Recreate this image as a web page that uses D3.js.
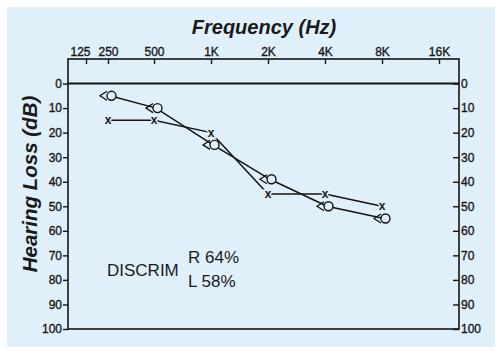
<!DOCTYPE html>
<html>
<head>
<meta charset="utf-8">
<script src="https://cdn.jsdelivr.net/npm/d3@7"></script>
<style>
  body { margin: 0; background: #fff; }
  text { font-family: "Liberation Sans", Arial, sans-serif; fill: #1a1a1a; }
  .tick text { stroke: #141414; stroke-width: 0.35px; }
</style>
</head>
<body>
<svg id="chart" width="500" height="354"></svg>
<script>
// audiogram values
const freqTicks = [125, 250, 500, 1000, 2000, 4000, 8000, 16000];
const freqLabels = ["125", "250", "500", "1K", "2K", "4K", "8K", "16K"];
const dbTicks = [0, 10, 20, 30, 40, 50, 60, 70, 80, 90, 100];
const testFreqs = [250, 500, 1000, 2000, 4000, 8000];
const rightEar = [5, 10, 25, 39, 50, 55];   // circles with <
const leftEar = [15, 15, 20, 45, 45, 50];   // x marks
const discrim = [["R", "64%"], ["L", "58%"]];

const bg = "#e0f0fa";
const ink = "#141414";

const svg = d3.select("#chart");
svg.append("rect").attr("x", 7).attr("y", 7).attr("width", 488).attr("height", 340).attr("fill", bg);

const plotL = 68, plotR = 459, plotT = 59, plotB = 329;

// the chart squeezes the 125-250 octave, so the scale is piecewise in log2
const x = d3.scaleLinear()
    .domain([125, 250, 500, 16000].map(Math.log2))
    .range([86, 108, 154, 439]);
const fx = f => x(Math.log2(f));

const y = d3.scaleLinear().domain([-10, 100]).range([plotT, plotB]);

// frame
const g = svg.append("g").attr("stroke", ink).attr("fill", "none");
g.append("rect").attr("x", plotL).attr("y", plotT).attr("width", plotR - plotL).attr("height", plotB - plotT)
    .attr("stroke-width", 1.6);
g.append("line").attr("x1", plotL).attr("x2", plotR).attr("y1", y(0)).attr("y2", y(0)).attr("stroke-width", 2);

// top frequency axis
const topAxis = d3.axisTop(x).tickValues(freqTicks.map(Math.log2))
    .tickFormat((d, i) => freqLabels[i]).tickSizeInner(-5).tickSizeOuter(0).tickPadding(8);
const ta = svg.append("g").attr("transform", `translate(0,${plotT})`).call(topAxis);
ta.select(".domain").remove();
ta.selectAll(".tick line").attr("stroke", ink).attr("stroke-width", 1.4);
ta.selectAll(".tick text").attr("font-size", 12).attr("fill", ink).attr("y", -3)
    .attr("dx", (d, i) => i === 0 ? -6 : 0);

// left dB axis
const la = svg.append("g").attr("transform", `translate(${plotL},0)`)
    .call(d3.axisLeft(y).tickValues(dbTicks).tickSize(5).tickPadding(1));
la.select(".domain").remove();
la.selectAll(".tick line").attr("stroke", ink).attr("stroke-width", 1.4);
la.selectAll(".tick text").attr("font-size", 12).attr("fill", ink);

// right dB axis, ticks point inward
const ra = svg.append("g").attr("transform", `translate(${plotR},0)`)
    .call(d3.axisRight(y).tickValues(dbTicks).tickSize(0).tickPadding(2));
ra.select(".domain").remove();
ra.selectAll(".tick").append("line").attr("x1", -6).attr("x2", 0).attr("stroke", ink).attr("stroke-width", 1.4);
ra.selectAll(".tick text").attr("font-size", 12).attr("fill", ink);

// titles
svg.append("text").attr("x", 264).attr("y", 34).attr("text-anchor", "middle")
    .attr("font-size", 20).attr("font-weight", "bold").attr("font-style", "italic")
    .text("Frequency (Hz)");
svg.append("text").attr("transform", "translate(37,184) rotate(-90)").attr("text-anchor", "middle")
    .attr("font-size", 20.5).attr("font-weight", "bold").attr("font-style", "italic")
    .text("Hearing Loss (dB)");

// left ear: x marks joined by lines
const leftPts = testFreqs.map((f, i) => [fx(f), y(leftEar[i])]);
const rightPts = testFreqs.map((f, i) => [fx(f), y(rightEar[i])]);

svg.append("path").attr("d", d3.line()(leftPts)).attr("fill", "none").attr("stroke", ink).attr("stroke-width", 1.5);
svg.append("path").attr("d", d3.line()(rightPts.map(p => [p[0] + 2, p[1]])))
    .attr("fill", "none").attr("stroke", ink).attr("stroke-width", 1.5);

svg.selectAll(".xmark").data(leftPts).join("text")
    .attr("x", d => d[0]).attr("y", d => d[1] + 4).attr("text-anchor", "middle")
    .attr("font-size", 12).attr("font-weight", "bold")
    .attr("stroke", bg).attr("stroke-width", 3).style("paint-order", "stroke")
    .text("x");

// right ear: "<" plus circle
const mk = svg.selectAll(".omark").data(rightPts).join("g")
    .attr("transform", d => `translate(${d[0]},${d[1]})`);
mk.append("circle").attr("cx", 3.5).attr("cy", 0).attr("r", 4.5)
    .attr("fill", bg).attr("stroke", ink).attr("stroke-width", 1.4);
mk.append("path").attr("d", "M-1,-4.5L-8,0L-1,4.5").attr("fill", "none")
    .attr("stroke", ink).attr("stroke-width", 1.3);

// speech discrimination note
const note = svg.append("g").attr("font-size", 17).attr("font-weight", 300);
note.append("text").attr("x", 107).attr("y", 276).attr("fill", "#2a2a2a").text("DISCRIM");
note.selectAll(".dl").data(discrim).join("text")
    .attr("x", 188).attr("y", (d, i) => 263 + i * 24).attr("fill", "#2a2a2a")
    .text(d => d[0] + " " + d[1]);
</script>
</body>
</html>
